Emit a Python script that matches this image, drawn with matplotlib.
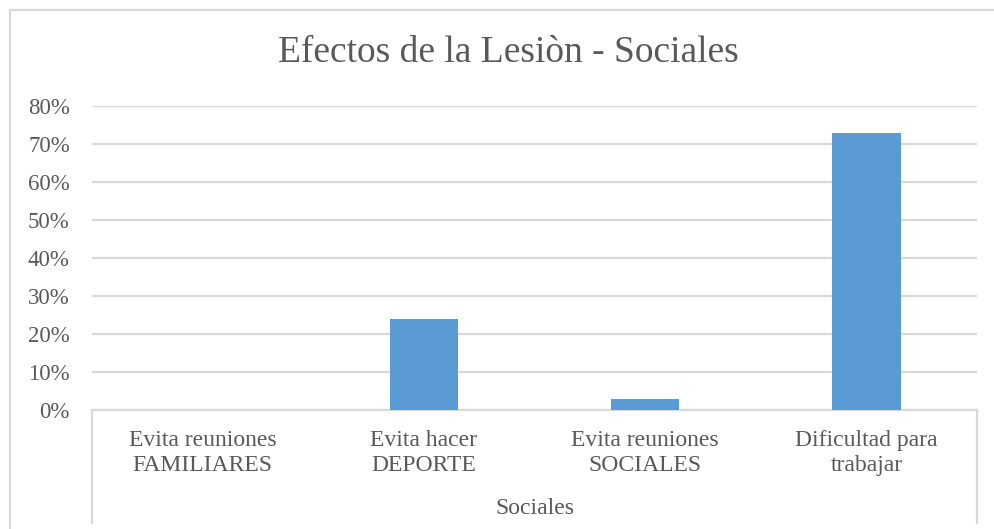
import matplotlib
matplotlib.use("Agg")
import matplotlib.pyplot as plt
import matplotlib.patches as mpatches
import matplotlib.transforms as mtransforms
from matplotlib.ticker import PercentFormatter

categories = ["Evita reuniones\nFAMILIARES", "Evita hacer\nDEPORTE",
              "Evita reuniones\nSOCIALES", "Dificultad para\ntrabajar"]
values = [0.0, 0.24, 0.03, 0.73]
group_label = "Sociales"
title = "Efectos de la Lesiòn - Sociales"

W, H = 994, 529
TEXT = "#595959"
GRID = "#D9D9D9"
BAR = "#5B9BD5"

plt.rcParams['font.family'] = ['Liberation Serif', 'DejaVu Serif']

fig = plt.figure(figsize=(W / 100, H / 100), dpi=100)
ax = fig.add_axes([92 / W, 1 - 410 / H, (977 - 92) / W, (410 - 106) / H])

x = range(len(categories))
ax.bar(x, values, width=0.31, color=BAR, zorder=3)

ax.set_xlim(-0.5, len(categories) - 0.5)
ax.set_ylim(0, 0.8)
ax.set_yticks([i / 10 for i in range(9)])
ax.yaxis.set_major_formatter(PercentFormatter(1.0, decimals=0))
ax.set_xticks(list(x))
ax.set_xticklabels(categories, linespacing=1.22)
ax.tick_params(axis='y', length=0, pad=16, labelsize=16.5, labelcolor=TEXT)
ax.tick_params(axis='x', length=0, pad=14.5, labelsize=17, labelcolor=TEXT)
ax.grid(axis='y', color=GRID, linewidth=1.6, zorder=0)
for s in ['top', 'right', 'left']:
    ax.spines[s].set_visible(False)
ax.spines['bottom'].set_color(GRID)
ax.spines['bottom'].set_linewidth(1.6)

# group dividers of the multi-level category axis
trans = mtransforms.blended_transform_factory(ax.transData, ax.transAxes)
for xe in [-0.5, len(categories) - 0.5]:
    ax.plot([xe, xe], [0, -(523 - 410) / (410 - 106)], color=GRID, lw=1.6,
            transform=trans, clip_on=False)

fig.text((92 + 977) / 2 / W, 1 - 508 / H, group_label, ha='center', va='center',
         fontsize=17, color=TEXT)
fig.text(508 / W, 1 - 53 / H, title, ha='center', va='center',
         fontsize=27, color=TEXT)

# chart area border
fig.add_artist(mpatches.Rectangle((10 / W, -0.1), 2, 1 - 10 / H + 0.1,
                                  transform=fig.transFigure, fill=False,
                                  ec=GRID, lw=1.6))

fig.savefig("out.png", dpi=100)
